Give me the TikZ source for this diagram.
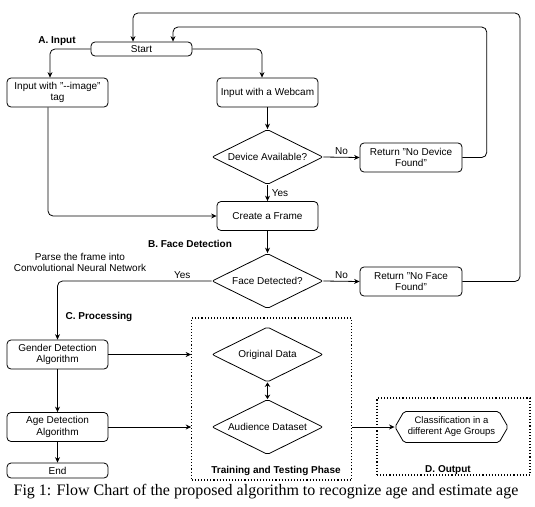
\documentclass[tikz,border=0pt]{standalone}
\usepackage{fontspec}
\setmainfont{Liberation Sans}
\newfontfamily\capfont{Liberation Serif}
\usetikzlibrary{shapes.geometric,shapes.symbols,arrows.meta}

\begin{document}
\begin{tikzpicture}[x=1pt,y=-1pt,
            font=\fontsize{10}{11.5}\selectfont,
            every node/.style={align=center,inner sep=1pt},
            box/.style={draw,rounded corners=4pt,line width=0.8pt,minimum width=101pt,minimum height=29pt},
            decide/.style={draw,diamond,aspect=2,rounded corners=2pt,line width=0.8pt,minimum width=111pt,minimum height=55pt,inner sep=0pt},
            phase/.style={draw,dotted,line width=1.1pt},
            heading/.style={font=\fontsize{10}{11.5}\selectfont\bfseries},
            arr/.style={-{Stealth[length=5.5pt,width=5pt]},line width=0.8pt},
            loop/.style={arr,rounded corners=5pt}]
            \useasboundingbox (0,0) rectangle (535,506);
            \node[box,minimum height=14pt] (start) at (141.5,49) {Start};
            \node[heading] (inputlbl) at (57,41) {A. Input};
            \node[box] (image) at (57.5,92.5) {Input with "-{}-image"\\tag};
            \node[box] (web) at (267.5,92.5) {Input with a Webcam};
            \node[decide] (device) at (267.5,157) {Device Available?};
            \node[box,minimum width=102pt] (nodev) at (411,157.5) {Return "No Device\\Found"};
            \node[box] (create) at (267.5,216) {Create a Frame};
            \node[heading] (facelbl) at (190,244) {B. Face Detection};
            \node (parse) at (80,262.5) {Parse the frame into\\Convolutional Neural Network};
            \node[decide] (face) at (267.5,281) {Face Detected?};
            \node[box,minimum width=102pt] (noface) at (411,281.5) {Return "No Face\\Found"};
            \node[heading] (proclbl) at (99,317) {C. Processing};
            \node[box] (gender) at (57.5,354.5) {Gender Detection\\Algorithm};
            \node[box] (age) at (57.5,427) {Age Detection\\Algorithm};
            \node[box,minimum height=15pt] (end) at (57.5,470.5) {End};
            \node[phase,minimum width=160pt,minimum height=162pt] (train) at (271.7,399) {};
            \node[heading] (trainlbl) at (276,471) {Training and Testing Phase};
            \node[decide] (orig) at (267.5,354.5) {Original Data};
            \node[decide] (aud) at (267.5,427) {Audience Dataset};
            \node[phase,minimum width=153pt,minimum height=77pt] (output) at (453.5,436.5) {};
            \node[heading] (outlbl) at (448,470) {D. Output};
            \node[draw,signal,signal to=west and east,signal pointer angle=120,rounded corners=2pt,line width=0.8pt,
                minimum width=113pt,minimum height=31pt,font=\fontsize{9.5}{11}\selectfont] (classif) at (451.5,427)
                {Classification in a\\different Age Groups};
            \node[font=\fontsize{16}{18}\selectfont\capfont] (caption) at (266,492)
                {Fig 1: Flow Chart of the proposed algorithm to recognize age and estimate age};

            \draw[loop] (start.west) -| ([xshift=-7.5pt]image.north);
            \draw[loop] (start.east) -| ([xshift=-5.5pt]web.north);
            \draw[arr] (web.south) -- (device.north);
            \draw[arr] (device.east) -- node[above=1pt] {No} (nodev.west);
            \draw[arr] (device.south) -- node[right=3pt] {Yes} (create.north);
            \draw[loop] ([xshift=-9.5pt]image.south) |- (create.west);
            \draw[arr] (create.south) -- (face.north);
            \draw[arr] (face.east) -- node[above=1pt] {No} (noface.west);
            \draw[loop] (face.west) -| node[pos=0.095,above=1pt] {Yes} (gender.north);
            \draw[arr] (gender.south) -- (age.north);
            \draw[arr] (age.south) -- (end.north);
            \draw[arr] (gender.east) -- (train.west |- gender.east);
            \draw[arr] (age.east) -- (train.west |- age.east);
            \draw[{Stealth[length=4.5pt,width=5.5pt]}-{Stealth[length=4.5pt,width=5.5pt]},line width=0.8pt] (orig.south) -- (aud.north);
            \draw[arr] (train.east |- classif.west) -- (classif.west);
            \draw[loop] (nodev.east) -| (486.7,27) -| ([xshift=31.5pt]start.north);
            \draw[loop] (noface.east) -| (520,13) -| ([xshift=-8.5pt]start.north);
\end{tikzpicture}
\end{document}
